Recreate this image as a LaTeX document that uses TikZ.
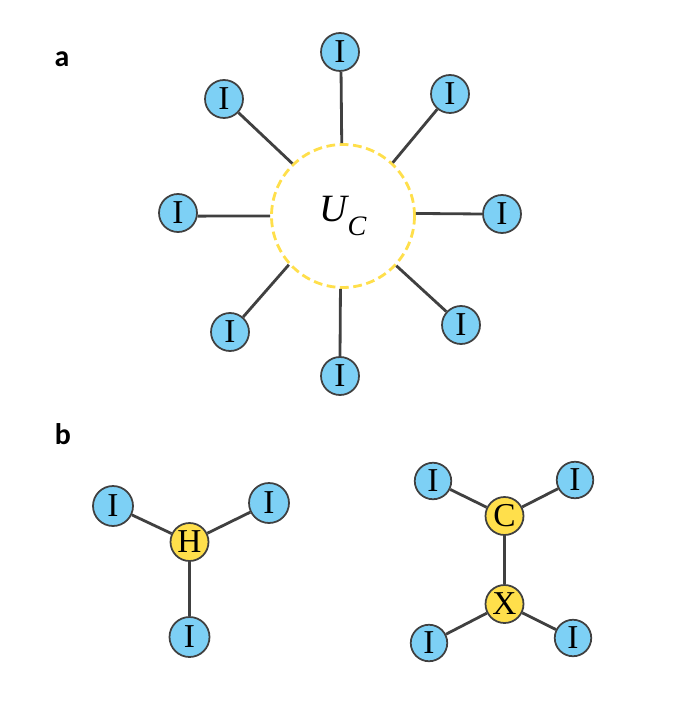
\documentclass[tikz,border=0pt]{standalone}
\usepackage{fontspec}
\setmainfont{Liberation Serif}
\newfontfamily\labelfont{Carlito}
\usepackage{amsmath}
\usepackage{tikz}
\definecolor{iodineblue}{HTML}{7DD0F5}
\definecolor{atomyellow}{HTML}{FFDF4B}
\definecolor{bonddark}{HTML}{404040}
\tikzset{
  atom/.style={circle, draw=bonddark, line width=1pt, inner sep=0pt, font=\fontsize{19}{20}\selectfont},
  iodine/.style={atom, fill=iodineblue, minimum size=0.76cm},
  iodinebig/.style={atom, fill=iodineblue, minimum size=0.80cm},
  iodinesmall/.style={atom, fill=iodineblue, minimum size=0.73cm},
  nucleus/.style={atom, fill=atomyellow, minimum size=0.76cm},
  cage/.style={circle, draw=atomyellow, line width=1.6pt, dash pattern=on 5pt off 2.6pt, inner sep=0pt, minimum size=2.86cm},
  bond/.style={draw=bonddark, line width=1.6pt},
  panel/.style={font=\labelfont\bfseries\fontsize{17}{18}\selectfont}
}

\begin{document}
\begin{tikzpicture}[x=0.02cm, y=-0.02cm]
  \useasboundingbox (0,0) rectangle (678,709);
  \node[panel] (labela) at (62,59) {a};
  \node[panel] (labelb) at (63,434) {b};

  \node[cage] (uc) at (343,216) {\fontsize{22}{24}\selectfont\itshape U\raisebox{-0.36em}{\fontsize{16}{16}\selectfont C}};
  \node[iodine] (top) at (340,52) {I};
  \node[iodine] (upright) at (450,94) {I};
  \node[iodine] (right) at (502,214) {I};
  \node[iodine] (lowright) at (461,325) {I};
  \node[iodine] (bottom) at (340,376) {I};
  \node[iodine] (lowleft) at (230,332) {I};
  \node[iodine] (left) at (178,213) {I};
  \node[iodine] (upleft) at (224,99) {I};
  \draw[bond] (top.-87) -- (uc.91.6);
  \draw[bond] (upright) -- (uc.47);
  \draw[bond] (right.180) -- (uc.2);
  \draw[bond] (lowright) -- (uc.-43);
  \draw[bond] (bottom.90) -- (uc.-92.4);
  \draw[bond] (lowleft) -- (uc.-138);
  \draw[bond] (left.-9) -- (uc.180);
  \draw[bond] (upleft) -- (uc.134);

  \node[nucleus] (hydrogen) at (189.5,542) {H};
  \node[iodinebig] (hleft) at (113,506) {I};
  \node[iodinebig] (hright) at (269,503) {I};
  \node[iodinebig] (hdown) at (189.5,637) {I};
  \draw[bond] (hleft) -- (hydrogen);
  \draw[bond] (hright) -- (hydrogen);
  \draw[bond] (hdown.90) -- (hydrogen.-90);

  \node[nucleus] (carbon) at (504.5,516) {C};
  \node[nucleus] (halogen) at (504.5,604) {X};
  \node[iodinesmall] (cleft) at (433,481) {I};
  \node[iodinesmall] (cright) at (575,480) {I};
  \node[iodinesmall] (xleft) at (429,643) {I};
  \node[iodinesmall] (xright) at (573,638) {I};
  \draw[bond] (carbon) -- (halogen);
  \draw[bond] (cleft) -- (carbon);
  \draw[bond] (cright) -- (carbon);
  \draw[bond] (xleft) -- (halogen);
  \draw[bond] (xright) -- (halogen);
\end{tikzpicture}
\end{document}
